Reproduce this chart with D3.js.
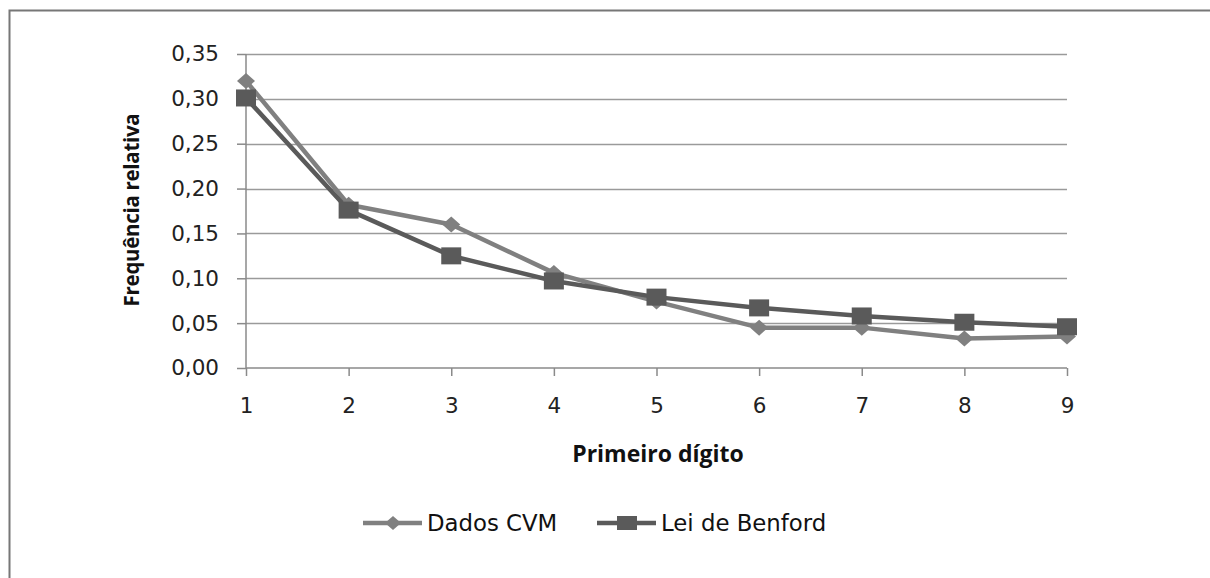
<!DOCTYPE html>
<html><head><meta charset="utf-8">
<script src="https://cdn.jsdelivr.net/npm/d3@7"></script>
<style>body{margin:0;background:#fff;}svg{display:block;}</style>
</head><body>
<svg id="c" width="1210" height="578"></svg>
<script>
const digits = [1,2,3,4,5,6,7,8,9];
const dadosCVM = [0.320,0.182,0.160,0.106,0.074,0.045,0.045,0.033,0.035];
const leiBenford = [0.301,0.176,0.125,0.097,0.079,0.067,0.058,0.051,0.046];
const yTicks = [0,0.05,0.10,0.15,0.20,0.25,0.30,0.35];
const seriesNames = ["Dados CVM","Lei de Benford"];

const svg = d3.select("#c");
const tickFont = "'DejaVu Sans', sans-serif";
const titleFont = "'Open Sans', sans-serif";
// frame
svg.append("path").attr("d","M9.5,578 L9.5,10.5 L1210,10.5").attr("fill","none").attr("stroke","#777").attr("stroke-width",2);

const x = d3.scaleLinear().domain([1,9]).range([246,1067]);
const y = d3.scaleLinear().domain([0,0.35]).range([368,54]);

// gridlines
svg.append("g").selectAll("line").data(yTicks.filter(d=>d>0)).join("line")
  .attr("x1",246).attr("x2",1067).attr("y1",d=>Math.round(y(d))+0.5).attr("y2",d=>Math.round(y(d))+0.5)
  .attr("stroke","#9a9a9a").attr("stroke-width",1.5);

const fmt = d => d3.format(".2f")(d).replace(".",",");
const yAxis = svg.append("g").attr("transform","translate(246,0)")
  .call(d3.axisLeft(y).tickValues(yTicks).tickFormat(fmt).tickSize(9).tickPadding(18));
yAxis.select(".domain").attr("stroke","#8a8a8a").attr("stroke-width",1.5).attr("d","M0,54V368");
yAxis.selectAll(".tick line").attr("stroke","#8a8a8a").attr("stroke-width",1.5);
yAxis.selectAll("text").attr("font-family",tickFont).attr("font-size",21.5).attr("fill","#222");

const xAxis = svg.append("g").attr("transform","translate(0,368)")
  .call(d3.axisBottom(x).tickValues(digits).tickFormat(d3.format("d")).tickSize(8).tickPadding(22));
xAxis.select(".domain").attr("stroke","#8a8a8a").attr("stroke-width",1.5).attr("d","M246,0H1067");
xAxis.selectAll(".tick line").attr("stroke","#8a8a8a").attr("stroke-width",1.5);
xAxis.selectAll("text").attr("font-family",tickFont).attr("font-size",21.5).attr("fill","#222");

// titles
svg.append("text").attr("transform","translate(139,210) rotate(-90)").attr("text-anchor","middle")
  .attr("font-family",titleFont).attr("font-weight","bold").attr("font-size",20.5).attr("letter-spacing",-0.3).attr("fill","#111").text("Frequência relativa");
svg.append("text").attr("x",658).attr("y",462).attr("text-anchor","middle")
  .attr("font-family",titleFont).attr("font-weight","bold").attr("font-size",23).attr("fill","#111").text("Primeiro dígito");

const colors = ["#808080","#5a5a5a"];
const line = d3.line().x((d,i)=>x(digits[i])).y(d=>y(d));
const data = [dadosCVM, leiBenford];
const diamond = (w,h) => `M0,${-h}L${w},0L0,${h}L${-w},0Z`;

data.forEach((vals,k)=>{
  svg.append("path").datum(vals).attr("d",line).attr("fill","none").attr("stroke",colors[k]).attr("stroke-width",4.5).attr("stroke-linejoin","round");
});
// markers
svg.append("g").selectAll("path").data(dadosCVM).join("path")
  .attr("transform",(d,i)=>`translate(${x(digits[i])},${y(d)})`).attr("d",diamond(9,8)).attr("fill",colors[0]);
svg.append("g").selectAll("rect").data(leiBenford).join("rect")
  .attr("x",(d,i)=>x(digits[i])-10).attr("y",d=>y(d)-8.5).attr("width",20).attr("height",17).attr("fill",colors[1]);

// legend
const leg = [{x:363,name:seriesNames[0],k:0},{x:597,name:seriesNames[1],k:1}];
leg.forEach(l=>{
  const g = svg.append("g").attr("transform",`translate(${l.x},523)`);
  g.append("line").attr("x1",0).attr("x2",59).attr("y1",0).attr("y2",0).attr("stroke",colors[l.k]).attr("stroke-width",4.5);
  if(l.k===0) g.append("path").attr("transform","translate(30,0)").attr("d",diamond(8,7)).attr("fill",colors[0]);
  else g.append("rect").attr("x",20).attr("y",-7).attr("width",20).attr("height",14).attr("fill",colors[1]);
  g.append("text").attr("x",64).attr("y",8).attr("font-family",tickFont).attr("font-size",22.8).attr("fill","#111").text(l.name);
});
</script>
</body></html>
